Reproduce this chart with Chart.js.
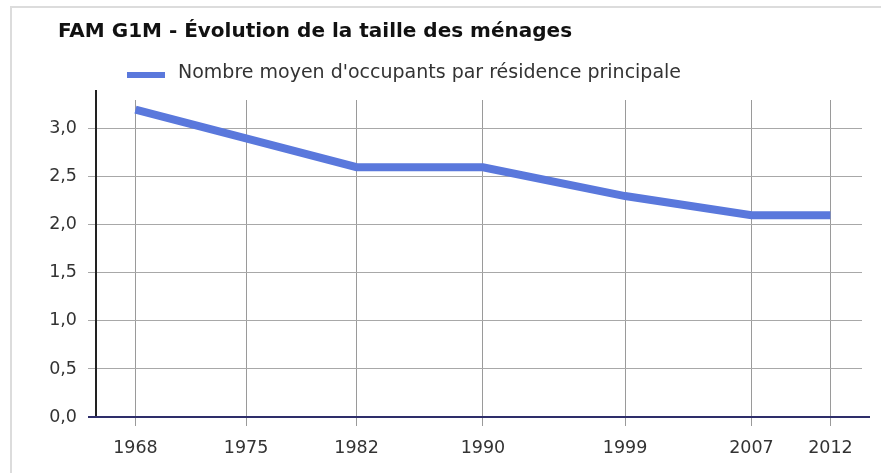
<!DOCTYPE html>
<html>
<head>
<meta charset="utf-8">
<script src="https://cdn.jsdelivr.net/npm/chart.js@4"></script>
<style>
  html, body { margin: 0; padding: 0; background: #fff; }
  #cadre {
    position: absolute; left: 10px; top: 6px; width: 871px; height: 467px;
    border-top: 2px solid #dcdcdc; border-left: 2px solid #dcdcdc;
  }
  #zone { position: absolute; left: 0; top: 0; width: 881px; height: 473px; }
</style>
</head>
<body>
<div id="cadre"></div>
<div id="zone"><canvas id="graphe"></canvas></div>
<script>
// taille des ménages
const annees = [1968, 1975, 1982, 1990, 1999, 2007, 2012];
const occupants = [3.2, 2.9, 2.6, 2.6, 2.3, 2.1, 2.1];
const graduationsY = [0, 0.5, 1.0, 1.5, 2.0, 2.5, 3.0];
const titre = 'FAM G1M - Évolution de la taille des ménages';
const libelle = "Nombre moyen d'occupants par résidence principale";

const bleu = '#5a78dc';
const police = '"DejaVu Sans", Verdana, sans-serif';

// titre et legende dessinés au dessus de la zone de tracé
const entete = {
  id: 'entete',
  afterDraw(chart) {
    const c = chart.ctx;
    const zone = chart.chartArea;
    const ds = chart.data.datasets[0];
    c.save();
    c.textBaseline = 'middle';
    c.fillStyle = '#111';
    c.font = 'bold 20px ' + police;
    c.fillText(titre, zone.left - 38, zone.top - 68);

    const x = zone.left + 31;
    const y = zone.top - 27;
    c.fillStyle = ds.borderColor;
    c.fillRect(x, y - 1, 38, 6);
    c.fillStyle = '#333';
    c.font = '19px ' + police;
    c.fillText(ds.label, x + 51, y);
    c.restore();
  }
};

// axes un peu plus longs que la zone de tracé
const axes = {
  id: 'axes',
  afterDatasetsDraw(chart) {
    const c = chart.ctx;
    const z = chart.chartArea;
    c.save();
    c.lineWidth = 2;
    c.strokeStyle = '#222';
    c.beginPath();
    c.moveTo(z.left, z.top - 10);
    c.lineTo(z.left, z.bottom);
    c.stroke();
    c.strokeStyle = '#2e2e6a';
    c.beginPath();
    c.moveTo(z.left - 8, z.bottom);
    c.lineTo(z.right + 8, z.bottom);
    c.stroke();
    c.restore();
  }
};

const ctx = document.getElementById('graphe').getContext('2d');

new Chart(ctx, {
  type: 'line',
  data: {
    datasets: [{
      label: libelle,
      data: annees.map((a, i) => ({ x: a, y: occupants[i] })),
      borderColor: bleu,
      backgroundColor: bleu,
      borderWidth: 8,
      borderCapStyle: 'butt',
      pointRadius: 0,
      tension: 0,
      fill: false
    }]
  },
  options: {
    responsive: true,
    maintainAspectRatio: false,
    animation: false,
    layout: { padding: { left: 10, right: 19, bottom: 2, top: 100 } },
    plugins: {
      legend: { display: false },
      tooltip: { enabled: false },
      title: { display: false }
    },
    scales: {
      x: {
        type: 'linear',
        min: 1965.5,
        max: 2014,
        afterBuildTicks: s => { s.ticks = annees.map(v => ({ value: v })); },
        ticks: {
          callback: v => String(v),
          color: '#333',
          font: { family: police, size: 17.5 },
          padding: 12,
          maxRotation: 0,
          autoSkip: false
        },
        grid: { color: '#9a9a9a', lineWidth: 1, tickLength: 9 },
        border: { display: false }
      },
      y: {
        min: 0,
        max: 3.3,
        afterBuildTicks: s => { s.ticks = graduationsY.map(v => ({ value: v })); },
        afterFit: s => { s.width = 86; },
        ticks: {
          callback: v => v.toFixed(1).replace('.', ','),
          color: '#333',
          font: { family: police, size: 17.5 },
          padding: 11
        },
        grid: { color: '#a8a8a8', lineWidth: 1, tickLength: 8 },
        border: { display: false }
      }
    }
  },
  plugins: [entete, axes]
});
</script>
</body>
</html>
